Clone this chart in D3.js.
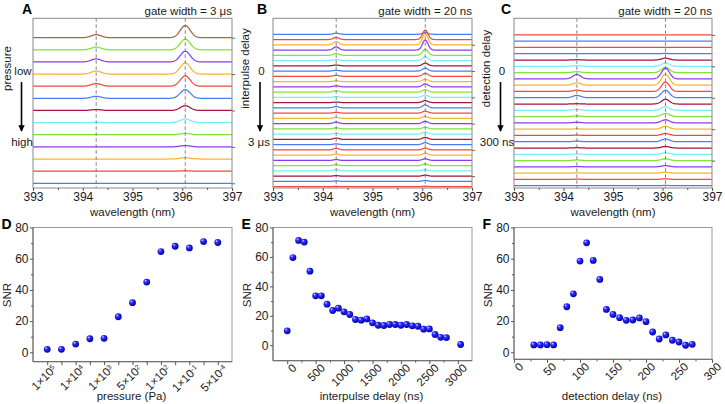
<!DOCTYPE html>
<html><head><meta charset="utf-8">
<script src="https://cdn.jsdelivr.net/npm/d3@7/dist/d3.min.js"></script>
<style>body{margin:0;background:#fff}svg{display:block;font-family:Arial,"Liberation Sans",sans-serif}</style>
</head><body>
<svg id="c" width="725" height="404"></svg>
<script>
// ---------------- DATA ----------------
const wavelengthTicks = [393, 394, 395, 396, 397];
const lineCenters = [394.27, 396.06];
// peak amplitudes (in units of trace spacing), listed top trace first
const peakA396 = [1.0, 0.88, 0.88, 0.93, 0.85, 0.72, 0.39, 0.30, 0.11, 0.11, 0.11, 0.03, 0];
const peakA394 = [0.25, 0.22, 0.25, 0.25, 0.22, 0.17, 0.08, 0.02, 0, 0, 0, 0, 0];
const peakB396 = [0.3, 1.78, 2.1, 1.9, 1.15, 0.76, 0.5, 0.57, 0.57, 0.45, 0.57, 0.45, 0.45, 0.38, 0.57,
                  0.38, 0.38, 0.45, 0.32, 0.38, 0.38, 0.38, 0.32, 0.38, 0.32, 0.32, 0.25, 0.19, 0.19, 0.1];
const peakB394 = [0.2, 0.4, 0.6, 0.6, 0.35, 0.2, 0.15, 0.15, 0.2, 0.15, 0.2, 0.25, 0.15, 0.1, 0.25,
                  0.15, 0.2, 0.3, 0.2, 0.15, 0.25, 0.15, 0.3, 0.2, 0.15, 0.2, 0.3, 0.1, 0.1, 0.05];
const peakC396 = [0, 0, 0, 0.05, 0.3, 0.55, 0.85, 1.7, 1.75, 1.5, 1.2, 0.75, 0.6, 0.5, 0.5,
                  0.45, 0.3, 0.45, 0.25, 0.25, 0.3, 0.2, 0.15, 0.1, 0.05];
const peakC394 = [0, 0, 0, 0, 0.05, 0.1, 0.15, 0.7, 0.37, 0.2, 0.37, 0.05, 0.15, 0.1, 0.1,
                  0.05, 0.05, 0.1, 0.05, 0.05, 0.1, 0.05, 0.05, 0.05, 0];

const pressureIndex = d3.range(13);
const pressureSNR = [1.9, 1.9, 5.3, 8.7, 9.0, 22.8, 31.8, 45.0, 64.6, 68.0, 66.9, 71.0, 70.4];
const pressureTickMant = ['1', '1', '1', '5', '1', '1', '5'];
const pressureTickExp  = ['5', '4', '3', '2', '2', '-1', '-4'];

const interpulseDelay = [0,100,200,300,400,500,600,700,800,900,1000,1100,1200,1300,1400,1500,1600,
                         1700,1800,1900,2000,2100,2200,2300,2400,2500,2600,2700,2800,3050];
const interpulseSNR = [9.8, 59.6, 71.2, 70.1, 50.3, 33.6, 33.6, 27.9, 23.6, 25.2, 22.7, 20.9, 17.5, 17.0,
                       17.9, 15.2, 13.6, 13.4, 14.1, 14.1, 13.6, 14.1, 13.2, 12.9, 10.9, 11.1, 7.3, 5.4, 5.2, 0.5];
const detectionDelay = [30,40,50,60,70,80,90,100,110,120,130,140,150,160,170,180,190,200,210,220,230,240,250,260,270];
const detectionSNR = [4.7, 4.7, 4.9, 4.7, 15.8, 29.2, 37.5, 58.5, 70.2, 58.9, 46.7, 27.5, 24.3, 22.2, 20.5,
                      20.7, 22.0, 19.6, 13.0, 8.5, 11.1, 7.7, 6.6, 4.5, 5.1];

// ---------------- STYLE ----------------
const palette = ['#4a7cf4', '#f4493a', '#f8b52c', '#8a3df0', '#7fe433', '#74f0f4', '#a5153d'];
const svg = d3.select('#c');
const TXT = '#1a1a1a', FS = 11;

const defs = svg.append('defs');
const rg = defs.append('radialGradient').attr('id', 'ball')
  .attr('cx', '40%').attr('cy', '40%').attr('r', '60%').attr('fx', '32%').attr('fy', '28%');
rg.append('stop').attr('offset', '0%').attr('stop-color', '#d8d8ff');
rg.append('stop').attr('offset', '35%').attr('stop-color', '#2f2fff');
rg.append('stop').attr('offset', '100%').attr('stop-color', '#0000a8');
defs.append('marker').attr('id', 'arr').attr('viewBox', '0 0 10 10').attr('refX', 9).attr('refY', 5)
  .attr('markerWidth', 4).attr('markerHeight', 4).attr('orient', 'auto')
  .append('path').attr('d', 'M0,0L10,5L0,10z').attr('fill', '#000');

// ---------------- SPECTRA PANELS ----------------
const ST = 18.3, SB = 188;
function spectrumPanel(cfg) {
  const x = d3.scaleLinear().domain([393, 397]).range([cfg.x0, cfg.x1]);
  const y = d3.scaleLinear().domain(cfg.yDom).range([SB, ST]);
  const G = svg.append('g');
  const cid = 'clip' + cfg.letter;
  defs.append('clipPath').attr('id', cid).append('rect')
    .attr('x', cfg.x0).attr('y', ST).attr('width', cfg.x1 - cfg.x0).attr('height', SB - ST);
  const n = cfg.p396.length;
  const grid = d3.range(393, 397.0001, 0.01);
  const traces = G.append('g').attr('clip-path', `url(#${cid})`);
  cfg.p396.forEach((a, i) => {
    const j = n - 1 - i;
    const b = cfg.p394[i];
    const f = w => j + a * Math.exp(-0.5 * ((w - lineCenters[1]) / cfg.s) ** 2)
                     + b * Math.exp(-0.5 * ((w - lineCenters[0]) / cfg.s) ** 2);
    traces.append('path').datum(grid)
      .attr('d', d3.line().x(w => x(w)).y(w => y(f(w))))
      .attr('fill', 'none').attr('stroke', cfg.color(j, i)).attr('stroke-width', 1.25);
  });
  lineCenters.forEach(c => G.append('line').attr('x1', x(c)).attr('x2', x(c)).attr('y1', ST).attr('y2', SB)
    .attr('stroke', '#666').attr('stroke-width', 0.8).attr('stroke-dasharray', '3.5,2.5'));
  G.append('rect').attr('x', cfg.x0).attr('y', ST).attr('width', cfg.x1 - cfg.x0).attr('height', SB - ST)
    .attr('fill', 'none').attr('stroke', '#8a8a8a').attr('stroke-width', 1);
  // bottom axis
  const ax = G.append('g').attr('transform', `translate(0,${SB})`)
    .call(d3.axisBottom(x).tickValues(wavelengthTicks).tickSize(3).tickPadding(1).tickFormat(d3.format('d')));
  ax.select('.domain').remove();
  ax.selectAll('line').attr('stroke', '#555');
  ax.selectAll('text').attr('font-size', FS + 1).attr('fill', TXT).attr('font-family', 'Arial, Liberation Sans');
  const mx = G.append('g').attr('transform', `translate(0,${SB})`)
    .call(d3.axisBottom(x).tickValues([393.5, 394.5, 395.5, 396.5]).tickSize(2).tickFormat(''));
  mx.select('.domain').remove(); mx.selectAll('line').attr('stroke', '#555');
  // right ticks
  const ry = G.append('g').attr('transform', `translate(${cfg.x1},0)`)
    .call(d3.axisRight(y).tickValues(cfg.rightTicks).tickSize(3).tickFormat(''));
  ry.select('.domain').remove(); ry.selectAll('line').attr('stroke', '#666');
  G.append('text').attr('x', (cfg.x0 + cfg.x1) / 2).attr('y', 215.5).attr('text-anchor', 'middle')
    .attr('font-size', FS + 0.5).attr('fill', TXT).text('wavelength (nm)');
  G.append('text').attr('x', cfg.x1).attr('y', 14.5).attr('text-anchor', 'end')
    .attr('font-size', FS + 0.5).attr('fill', TXT).text(cfg.title);
  G.append('text').attr('x', cfg.lx).attr('y', 13.5).attr('font-size', 14).attr('font-weight', 'bold')
    .attr('fill', '#000').text(cfg.letter);
  // side annotation
  G.append('text').attr('transform', `translate(${cfg.ax - 11},${68.5}) rotate(-90)`).attr('text-anchor', 'middle')
    .attr('font-size', FS + 0.5).attr('fill', TXT).text(cfg.side);
  G.append('text').attr('x', cfg.ax + 1.5).attr('y', 75).attr('text-anchor', 'middle')
    .attr('font-size', FS + 0.5).attr('fill', TXT).text(cfg.from);
  G.append('line').attr('x1', cfg.ax).attr('x2', cfg.ax).attr('y1', 82).attr('y2', 131)
    .attr('stroke', '#000').attr('stroke-width', 1.6).attr('marker-end', 'url(#arr)');
  G.append('text').attr('x', cfg.tx).attr('y', 145.5).attr('text-anchor', 'middle')
    .attr('font-size', FS + 0.5).attr('fill', TXT).text(cfg.to);
}

spectrumPanel({letter: 'A', lx: 22, x0: 33, x1: 232, yDom: [-0.39, 13.6], s: 0.1,
  p396: peakA396, p394: peakA394, title: 'gate width = 3 μs', rightTicks: [0, 3, 6, 9, 12],
  color: (j, i) => (j === 12 ? '#a5693f' : palette[j % 7]),
  side: 'pressure', from: 'low', to: 'high', ax: 21.5, tx: 22});
spectrumPanel({letter: 'B', lx: 257, x0: 273, x1: 472, yDom: [-0.25, 32.04], s: 0.055,
  p396: peakB396, p394: peakB394, title: 'gate width = 20 ns', rightTicks: [2, 7, 12, 17, 22, 27],
  color: (j, i) => palette[i % 7],
  side: 'interpulse delay', from: '0', to: '3 μs', ax: 260, tx: 259});
spectrumPanel({letter: 'C', lx: 501, x0: 514, x1: 712, yDom: [-0.36, 26.64], s: 0.08,
  p396: peakC396, p394: peakC394, title: 'gate width = 20 ns', rightTicks: [4, 9, 14, 19, 24],
  color: (j, i) => (j === 23 ? palette[0] : j === 24 ? palette[1] : palette[j % 7]),
  side: 'detection delay', from: '0', to: '300 ns', ax: 500.5, tx: 497});

// ---------------- SNR PANELS ----------------
const PT = 227.5;
function snrPanel(cfg) {
  const x = d3.scaleLinear().domain(cfg.xDom).range([cfg.x0, cfg.x1]);
  const y = d3.scaleLinear().domain(cfg.yDom).range([cfg.yb, PT]);
  const G = svg.append('g');
  G.append('rect').attr('x', cfg.x0).attr('y', PT).attr('width', cfg.x1 - cfg.x0).attr('height', cfg.yb - PT)
    .attr('fill', 'none').attr('stroke', '#9a9a9a').attr('stroke-width', 1);
  G.append('line').attr('x1', cfg.x0).attr('x2', cfg.x0).attr('y1', PT).attr('y2', cfg.yb).attr('stroke', '#666');
  G.append('line').attr('x1', cfg.x0).attr('x2', cfg.x1).attr('y1', cfg.yb).attr('y2', cfg.yb).attr('stroke', '#666');
  const ya = G.append('g').attr('transform', `translate(${cfg.x0},0)`)
    .call(d3.axisLeft(y).tickValues([0, 20, 40, 60, 80]).tickSize(3).tickPadding(1.5));
  ya.select('.domain').remove(); ya.selectAll('line').attr('stroke', '#555');
  ya.selectAll('text').attr('font-size', FS + 1).attr('fill', TXT).attr('font-family', 'Arial, Liberation Sans');
  const ym = G.append('g').attr('transform', `translate(${cfg.x0},0)`)
    .call(d3.axisLeft(y).tickValues([10, 30, 50, 70]).tickSize(2).tickFormat(''));
  ym.select('.domain').remove(); ym.selectAll('line').attr('stroke', '#555');
  const xa = G.append('g').attr('transform', `translate(0,${cfg.yb})`)
    .call(d3.axisBottom(x).tickValues(cfg.major).tickSize(3.5).tickFormat(''));
  xa.select('.domain').remove(); xa.selectAll('line').attr('stroke', '#555');
  if (cfg.minor) {
    const xm = G.append('g').attr('transform', `translate(0,${cfg.yb})`)
      .call(d3.axisBottom(x).tickValues(cfg.minor).tickSize(2).tickFormat(''));
    xm.select('.domain').remove(); xm.selectAll('line').attr('stroke', '#555');
  }
  cfg.labels.forEach((lab, k) => {
    const t = G.append('text')
      .attr('transform', `translate(${x(cfg.labelAt[k]) + 4},${cfg.yb + 2}) rotate(-45)`)
      .attr('text-anchor', 'end').attr('dy', '0.75em').attr('font-size', FS + 0.5).attr('fill', TXT);
    if (Array.isArray(lab)) {
      t.append('tspan').text(lab[0] + '×10');
      t.append('tspan').attr('dy', '-0.45em').attr('font-size', 7).text(lab[1]);
    } else t.text(lab);
  });
  G.selectAll('circle.pt').data(cfg.xs).enter().append('circle')
    .attr('cx', (d) => x(d)).attr('cy', (d, i) => y(cfg.ys[i])).attr('r', 3.4).attr('fill', 'url(#ball)');
  G.append('text').attr('x', (cfg.x0 + cfg.x1) / 2 - 1).attr('y', 400).attr('text-anchor', 'middle')
    .attr('font-size', FS + 0.5).attr('fill', TXT).text(cfg.xTitle);
  G.append('text').attr('transform', `translate(${cfg.x0 - 22.5},295) rotate(-90)`).attr('text-anchor', 'middle')
    .attr('font-size', FS + 0.5).attr('fill', TXT).text('SNR');
  G.append('text').attr('x', cfg.x0 - 31.5).attr('y', 228.5).attr('font-size', 14).attr('font-weight', 'bold')
    .attr('fill', '#000').text(cfg.letter);
}

snrPanel({letter: 'D', x0: 33, x1: 232, yb: 361.7, yDom: [-6, 80], xDom: [-1, 13],
  xs: pressureIndex, ys: pressureSNR,
  major: pressureIndex, minor: null,
  labels: pressureTickMant.map((m, k) => [m, pressureTickExp[k]]), labelAt: [0, 2, 4, 6, 8, 10, 12],
  xTitle: 'pressure (Pa)'});
snrPanel({letter: 'E', x0: 273, x1: 472, yb: 360.7, yDom: [-10.5, 80], xDom: [-250, 3250],
  xs: interpulseDelay, ys: interpulseSNR,
  major: [0, 500, 1000, 1500, 2000, 2500, 3000], minor: [250, 750, 1250, 1750, 2250, 2750],
  labels: ['0', '500', '1000', '1500', '2000', '2500', '3000'], labelAt: [0, 500, 1000, 1500, 2000, 2500, 3000],
  xTitle: 'interpulse delay (ns)'});
snrPanel({letter: 'F', x0: 514, x1: 712, yb: 359.3, yDom: [-4.5, 80], xDom: [0, 300],
  xs: detectionDelay, ys: detectionSNR,
  major: [0, 50, 100, 150, 200, 250, 300], minor: [25, 75, 125, 175, 225, 275],
  labels: ['0', '50', '100', '150', '200', '250', '300'], labelAt: [0, 50, 100, 150, 200, 250, 300],
  xTitle: 'detection delay (ns)'});
</script>
</body></html>
